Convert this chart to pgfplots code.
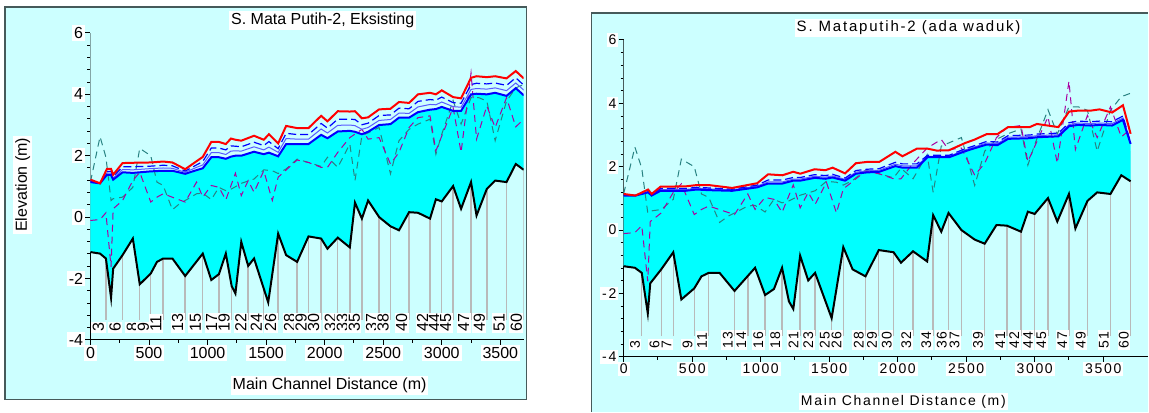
\documentclass[border=0pt]{standalone}
\usepackage{pgfplots}
\pgfplotsset{compat=1.18}
\usepackage{pgfplotstable}
\usepackage{fontspec}
\setmainfont{Liberation Sans}
\newfontfamily\spaced[LetterSpace=12]{Liberation Sans}

\definecolor{bgc}{RGB}{204,255,255}
\definecolor{wet}{RGB}{0,255,255}
\definecolor{bankA}{RGB}{40,130,130}
\definecolor{bankB}{RGB}{170,0,160}
\definecolor{xsgray}{RGB}{185,185,185}
\definecolor{framec}{RGB}{70,90,90}
\definecolor{wsthin}{RGB}{90,90,255}

% channel bed (same in both runs)
\pgfplotstableread{
x y
0 -1.14
82 -1.19
132 -1.35
176 -2.63
194 -1.68
274 -1.24
362 -0.70
421 -2.19
515 -1.84
568 -1.46
621 -1.35
700 -1.35
809 -1.92
959 -1.19
1032 -2.05
1097 -1.86
1156 -1.19
1206 -2.25
1238 -2.49
1288 -0.81
1347 -1.59
1397 -1.35
1518 -2.78
1603 -0.54
1671 -1.24
1765 -1.46
1862 -0.63
1970 -0.70
2024 -1.03
2112 -0.67
2215 -0.99
2259 0.47
2318 -0.05
2371 0.54
2465 0.00
2562 -0.30
2635 -0.43
2721 0.16
2797 0.14
2900 -0.05
2950 0.58
3000 0.51
3097 1.01
3165 0.27
3250 1.14
3297 0.05
3385 0.92
3456 1.19
3553 1.14
3632 1.73
3700 1.54
}\bed

% bank lines
\pgfplotstableread{
x y
0 1.15
82 2.62
132 1.95
176 0.54
194 0.60
274 0.65
362 0.97
421 2.24
515 2.00
568 1.14
621 1.03
700 0.24
759 0.43
809 0.54
906 0.76
959 0.78
1032 0.57
1097 0.97
1156 0.86
1206 0.92
1288 1.10
1397 1.24
1480 1.54
1553 1.51
1603 1.42
1671 1.57
1765 1.89
1862 1.78
1970 1.65
2024 1.95
2112 1.62
2215 2.38
2259 1.19
2318 2.65
2465 2.92
2562 1.41
2635 2.49
2721 2.86
2797 3.03
2900 3.19
2950 2.05
3000 2.70
3097 3.80
3165 3.03
3250 3.89
3318 3.89
3385 3.78
3456 2.49
3553 3.78
3632 4.21
3700 4.32
}\bankA

\pgfplotstableread{
x y
0 -0.11
82 -0.08
132 0.14
176 -1.62
194 0.27
274 0.54
362 1.19
421 1.46
515 0.49
568 0.65
621 0.76
809 0.49
906 1.14
959 0.65
1032 1.03
1097 0.97
1156 0.56
1238 1.43
1288 0.70
1347 1.19
1397 0.81
1480 1.51
1553 0.54
1603 1.30
1765 1.86
1862 1.78
1970 1.62
2024 1.62
2112 2.11
2215 2.59
2318 2.86
2371 2.54
2465 2.59
2562 1.73
2635 2.11
2721 2.92
2797 3.24
2900 3.30
2950 2.16
3097 3.57
3165 2.11
3250 4.70
3297 2.54
3385 3.62
3456 2.92
3553 3.89
3632 2.94
3700 3.19
}\bankB

% water surfaces, existing
\pgfplotstableread{
x ws thin dash eg
0 1.14 1.16 1.19 1.22
82 1.10 1.10 1.10 1.10
141 1.38 1.44 1.49 1.57
176 1.37 1.43 1.49 1.57
194 1.22 1.27 1.32 1.38
274 1.46 1.55 1.64 1.76
362 1.44 1.54 1.64 1.77
515 1.49 1.58 1.66 1.78
621 1.51 1.60 1.69 1.81
700 1.51 1.59 1.67 1.78
809 1.41 1.46 1.50 1.56
906 1.53 1.62 1.70 1.82
959 1.59 1.70 1.81 1.96
1032 1.95 2.10 2.25 2.45
1097 1.95 2.10 2.25 2.45
1156 1.90 2.04 2.19 2.38
1200 1.97 2.15 2.32 2.56
1238 2.00 2.16 2.31 2.52
1288 2.00 2.15 2.29 2.49
1397 2.13 2.29 2.44 2.65
1480 2.05 2.19 2.33 2.52
1524 2.10 2.28 2.46 2.70
1603 1.98 2.11 2.23 2.40
1671 2.38 2.56 2.73 2.97
1765 2.38 2.54 2.69 2.90
1862 2.38 2.54 2.69 2.90
1970 2.68 2.87 3.05 3.30
2024 2.57 2.74 2.90 3.12
2112 2.79 2.99 3.19 3.45
2215 2.81 3.00 3.19 3.44
2259 2.78 2.98 3.18 3.45
2318 2.70 2.86 3.01 3.22
2371 2.78 2.92 3.06 3.25
2465 3.00 3.15 3.31 3.51
2562 3.03 3.18 3.33 3.53
2635 3.24 3.39 3.55 3.75
2721 3.24 3.38 3.53 3.72
2797 3.42 3.59 3.77 4.00
2900 3.50 3.67 3.83 4.05
2950 3.52 3.66 3.81 4.00
3000 3.59 3.75 3.91 4.13
3097 3.46 3.60 3.73 3.91
3165 3.46 3.58 3.71 3.87
3250 4.00 4.16 4.32 4.54
3297 4.02 4.19 4.36 4.59
3385 4.00 4.17 4.34 4.56
3456 4.05 4.21 4.37 4.59
3553 3.95 4.12 4.29 4.52
3632 4.20 4.37 4.54 4.76
3700 3.97 4.14 4.30 4.52
}\wsL

% water surfaces, with reservoir
\pgfplotstableread{
x ws thin dash eg
0 1.09 1.11 1.12 1.14
86 1.09 1.09 1.09 1.09
178 1.19 1.22 1.25 1.28
204 1.09 1.11 1.12 1.14
269 1.24 1.28 1.31 1.37
452 1.24 1.28 1.31 1.38
531 1.28 1.32 1.35 1.42
623 1.26 1.30 1.33 1.42
792 1.24 1.27 1.29 1.33
975 1.35 1.39 1.42 1.48
1054 1.47 1.52 1.58 1.76
1159 1.47 1.52 1.58 1.73
1237 1.56 1.61 1.66 1.84
1289 1.56 1.61 1.66 1.78
1394 1.65 1.70 1.75 1.92
1472 1.62 1.67 1.72 1.89
1525 1.66 1.71 1.76 1.97
1616 1.56 1.60 1.64 1.79
1695 1.78 1.83 1.88 2.11
1773 1.82 1.87 1.92 2.15
1865 1.84 1.89 1.94 2.15
1983 2.02 2.08 2.14 2.47
2035 1.97 2.03 2.09 2.33
2140 1.97 2.03 2.09 2.57
2218 2.30 2.33 2.36 2.57
2284 2.30 2.33 2.36 2.51
2375 2.30 2.33 2.36 2.52
2493 2.49 2.53 2.57 2.75
2558 2.58 2.62 2.66 2.85
2650 2.70 2.75 2.80 3.03
2728 2.68 2.73 2.78 3.03
2806 2.88 2.93 2.98 3.25
2963 2.90 2.95 3.00 3.25
3016 2.93 2.98 3.03 3.35
3173 2.96 3.01 3.06 3.25
3251 3.28 3.33 3.39 3.74
3316 3.32 3.38 3.44 3.77
3408 3.30 3.36 3.42 3.77
3473 3.32 3.38 3.44 3.81
3565 3.30 3.36 3.42 3.71
3644 3.48 3.54 3.60 3.94
3700 2.72 2.74 2.76 3.04
}\wsR

% wetted area outlines: water surface downstream-up, then the bed back
\pgfplotstableread{
x y
0 1.14
82 1.10
141 1.38
176 1.37
194 1.22
274 1.46
362 1.44
515 1.49
621 1.51
700 1.51
809 1.41
906 1.53
959 1.59
1032 1.95
1097 1.95
1156 1.90
1200 1.97
1238 2.00
1288 2.00
1397 2.13
1480 2.05
1524 2.10
1603 1.98
1671 2.38
1765 2.38
1862 2.38
1970 2.68
2024 2.57
2112 2.79
2215 2.81
2259 2.78
2318 2.70
2371 2.78
2465 3.00
2562 3.03
2635 3.24
2721 3.24
2797 3.42
2900 3.50
2950 3.52
3000 3.59
3097 3.46
3165 3.46
3250 4.00
3297 4.02
3385 4.00
3456 4.05
3553 3.95
3632 4.20
3700 3.97
3700 1.54
3632 1.73
3553 1.14
3456 1.19
3385 0.92
3297 0.05
3250 1.14
3165 0.27
3097 1.01
3000 0.51
2950 0.58
2900 -0.05
2797 0.14
2721 0.16
2635 -0.43
2562 -0.30
2465 0.00
2371 0.54
2318 -0.05
2259 0.47
2215 -0.99
2112 -0.67
2024 -1.03
1970 -0.70
1862 -0.63
1765 -1.46
1671 -1.24
1603 -0.54
1518 -2.78
1397 -1.35
1347 -1.59
1288 -0.81
1238 -2.49
1206 -2.25
1156 -1.19
1097 -1.86
1032 -2.05
959 -1.19
809 -1.92
700 -1.35
621 -1.35
568 -1.46
515 -1.84
421 -2.19
362 -0.70
274 -1.24
194 -1.68
176 -2.63
132 -1.35
82 -1.19
0 -1.14
}\wetL

\pgfplotstableread{
x y
0 1.09
86 1.09
178 1.19
204 1.09
269 1.24
452 1.24
531 1.28
623 1.26
792 1.24
975 1.35
1054 1.47
1159 1.47
1237 1.56
1289 1.56
1394 1.65
1472 1.62
1525 1.66
1616 1.56
1695 1.78
1773 1.82
1865 1.84
1983 2.02
2035 1.97
2140 1.97
2218 2.30
2284 2.30
2375 2.30
2493 2.49
2558 2.58
2650 2.70
2728 2.68
2806 2.88
2963 2.90
3016 2.93
3173 2.96
3251 3.28
3316 3.32
3408 3.30
3473 3.32
3565 3.30
3644 3.48
3700 2.72
3700 1.54
3632 1.73
3553 1.14
3456 1.19
3385 0.92
3297 0.05
3250 1.14
3165 0.27
3097 1.01
3000 0.51
2950 0.58
2900 -0.05
2797 0.14
2721 0.16
2635 -0.43
2562 -0.30
2465 0.00
2371 0.54
2318 -0.05
2259 0.47
2215 -0.99
2112 -0.67
2024 -1.03
1970 -0.70
1862 -0.63
1765 -1.46
1671 -1.24
1603 -0.54
1518 -2.78
1397 -1.35
1347 -1.59
1288 -0.81
1238 -2.49
1206 -2.25
1156 -1.19
1097 -1.86
1032 -2.05
959 -1.19
809 -1.92
700 -1.35
621 -1.35
568 -1.46
515 -1.84
421 -2.19
362 -0.70
274 -1.24
194 -1.68
176 -2.63
132 -1.35
82 -1.19
0 -1.14
}\wetR

% labelled river stations
\pgfplotstableread{
x y lab
132 -3.8 3
274 -3.8 6
421 -3.8 8
515 -3.8 9
621 -3.8 11
809 -3.8 13
959 -3.8 15
1097 -3.8 17
1206 -3.8 19
1347 -3.8 22
1480 -3.8 24
1603 -3.8 26
1765 -3.8 28
1862 -3.8 29
1970 -3.8 30
2112 -3.8 32
2215 -3.8 33
2318 -3.8 35
2465 -3.8 37
2562 -3.8 38
2721 -3.8 40
2900 -3.8 42
3000 -3.8 44
3097 -3.8 45
3250 -3.8 47
3385 -3.8 49
3553 -3.8 51
3700 -3.8 60
}\labL

\pgfplotstableread{
x y lab
132 -3.8 3
274 -3.8 6
362 -3.8 7
515 -3.8 9
621 -3.8 11
809 -3.8 13
906 -3.8 14
1032 -3.8 16
1156 -3.8 18
1288 -3.8 21
1397 -3.8 23
1518 -3.8 25
1603 -3.8 26
1765 -3.8 28
1862 -3.8 29
1970 -3.8 30
2112 -3.8 32
2259 -3.8 34
2371 -3.8 36
2465 -3.8 37
2635 -3.8 39
2797 -3.8 41
2900 -3.8 42
3000 -3.8 44
3097 -3.8 45
3250 -3.8 47
3385 -3.8 49
3553 -3.8 51
3700 -3.8 60
}\labR

% station lines (bottom, top, break); the part above the bed is covered later
\pgfplotstableread{
x y
132 -3.35
132 2.5
132 nan
274 -3.35
274 2.5
274 nan
421 -3.35
421 2.5
421 nan
515 -3.35
515 2.5
515 nan
621 -3.35
621 2.5
621 nan
809 -3.35
809 2.5
809 nan
959 -3.35
959 2.5
959 nan
1097 -3.35
1097 2.5
1097 nan
1206 -3.35
1206 2.5
1206 nan
1347 -3.35
1347 2.5
1347 nan
1480 -3.35
1480 2.5
1480 nan
1603 -3.35
1603 2.5
1603 nan
1765 -3.35
1765 2.5
1765 nan
1862 -3.35
1862 2.5
1862 nan
1970 -3.35
1970 2.5
1970 nan
2112 -3.35
2112 2.5
2112 nan
2215 -3.35
2215 2.5
2215 nan
2318 -3.35
2318 2.5
2318 nan
2465 -3.35
2465 2.5
2465 nan
2562 -3.35
2562 2.5
2562 nan
2721 -3.35
2721 2.5
2721 nan
2900 -3.35
2900 2.5
2900 nan
3000 -3.35
3000 2.5
3000 nan
3097 -3.35
3097 2.5
3097 nan
3250 -3.35
3250 2.5
3250 nan
3385 -3.35
3385 2.5
3385 nan
3553 -3.35
3553 2.5
3553 nan
3700 -3.35
3700 2.5
3700 nan
}\glL

\pgfplotstableread{
x y
132 -3.35
132 2.5
132 nan
274 -3.35
274 2.5
274 nan
362 -3.35
362 2.5
362 nan
515 -3.35
515 2.5
515 nan
621 -3.35
621 2.5
621 nan
809 -3.35
809 2.5
809 nan
906 -3.35
906 2.5
906 nan
1032 -3.35
1032 2.5
1032 nan
1156 -3.35
1156 2.5
1156 nan
1288 -3.35
1288 2.5
1288 nan
1397 -3.35
1397 2.5
1397 nan
1518 -3.35
1518 2.5
1518 nan
1603 -3.35
1603 2.5
1603 nan
1765 -3.35
1765 2.5
1765 nan
1862 -3.35
1862 2.5
1862 nan
1970 -3.35
1970 2.5
1970 nan
2112 -3.35
2112 2.5
2112 nan
2259 -3.35
2259 2.5
2259 nan
2371 -3.35
2371 2.5
2371 nan
2465 -3.35
2465 2.5
2465 nan
2635 -3.35
2635 2.5
2635 nan
2797 -3.35
2797 2.5
2797 nan
2900 -3.35
2900 2.5
2900 nan
3000 -3.35
3000 2.5
3000 nan
3097 -3.35
3097 2.5
3097 nan
3250 -3.35
3250 2.5
3250 nan
3385 -3.35
3385 2.5
3385 nan
3553 -3.35
3553 2.5
3553 nan
3700 -3.35
3700 2.5
3700 nan
}\glR

\pgfplotsset{
    profile/.style={
        scale only axis,
        anchor=south west,
        xmin=0, ymin=-4, ymax=6,
        axis lines=left,
        axis line style={-, black, line width=0.6pt},
        tick align=outside,
        tick style={black, line width=0.5pt},
        major tick length=2.5pt,
        minor tick length=1.5pt,
        xtick={0,500,...,3500},
        ytick={-4,-2,...,6},
        minor x tick num=1,
        minor y tick num=4,
        ticklabel style={fill=white, inner sep=1pt},
        /pgf/number format/assume math mode=true,
        /pgf/number format/1000 sep={},
        unbounded coords=jump,
    },
    xsline/.style={xsgray, line width=0.7pt},
    dry/.style={fill=bgc, draw=none},
    bankA line/.style={bankA, line width=0.5pt, dash pattern=on 3.5pt off 2.5pt},
    bankB line/.style={bankB, line width=0.5pt, dash pattern=on 3.5pt off 2.5pt},
    xslabels/.style={only marks, mark=text, text mark={},
        nodes near coords, point meta=explicit symbolic,
        nodes near coords style={rotate=90, anchor=south west, fill=white,
            text=black, inner sep=0.7pt, font=#1}},
}

\begin{document}
\begin{tikzpicture}
\fill[white] (0,0) rectangle (574.5pt,206pt);
\filldraw[fill=bgc, draw=framec, line width=0.6pt] (2.5pt,6pt) rectangle (263.5pt,202.5pt);
\fill[bgc] (296pt,0pt) rectangle (574.5pt,199.5pt);
\draw[framec, line width=0.6pt] (296pt,0pt) -- (296pt,199.5pt) -- (574.5pt,199.5pt);

% ---- existing condition ----
\begin{axis}[
    profile,
    at={(45.25pt,36pt)},
    width=216.75pt, height=153.5pt,
    xmax=3700,
    tick label style={font=\fontsize{8}{9}\selectfont},
    title={S. Mata Putih-2, Eksisting},
    title style={at={(axis description cs:0.536,1.003)}, anchor=center,
        fill=white, inner sep=1pt, font=\fontsize{8}{9}\selectfont},
    xlabel={Main Channel Distance (m)},
    xlabel style={at={(axis description cs:0.552,-0.150)}, anchor=center,
        fill=white, inner sep=1pt, font=\fontsize{8}{9}\selectfont},
    ylabel={Elevation (m)},
    ylabel style={at={(axis description cs:-0.156,0.505)}, anchor=center,
        fill=white, inner sep=1pt, font=\fontsize{8}{9}\selectfont},
]
\addplot[xsline] table[x=x, y=y] {\glL};
\addplot[dry] table[x=x, y=y] {\bed} |- (axis cs:0,6) -- cycle;
\addplot[fill=wet, draw=none] table[x=x, y=y] {\wetL} -- cycle;
\addplot[bankA line] table[x=x, y=y] {\bankA};
\addplot[bankB line] table[x=x, y=y] {\bankB};
\addplot[wsthin, line width=0.5pt] table[x=x, y=thin] {\wsL};
\addplot[blue, line width=0.6pt, dash pattern=on 4pt off 2pt] table[x=x, y=dash] {\wsL};
\addplot[blue, line width=1pt] table[x=x, y=ws] {\wsL};
\addplot[red, line width=1pt] table[x=x, y=eg] {\wsL};
\addplot[black, line width=1pt] table[x=x, y=y] {\bed};
\addplot[xslabels={\fontsize{8}{8}\selectfont}] table[x=x, y=y, meta=lab] {\labL};
\end{axis}

% ---- with reservoir ----
\begin{axis}[
    profile,
    at={(312pt,27.5pt)},
    width=262.5pt, height=158.5pt,
    xmax=3830,
    tick label style={font=\spaced\fontsize{7}{8}\selectfont},
    title={S. Mataputih-2 (ada waduk)},
    title style={at={(axis description cs:0.543,1.0)}, anchor=center,
        fill=white, inner sep=1pt, font=\spaced\fontsize{7.5}{9}\selectfont},
    xlabel={Main Channel Distance (m)},
    xlabel style={at={(axis description cs:0.533,-0.142)}, anchor=center,
        fill=white, inner sep=1pt, font=\spaced\fontsize{7}{9}\selectfont},
]
\addplot[xsline] table[x=x, y=y] {\glR};
\addplot[dry] table[x=x, y=y] {\bed} |- (axis cs:0,6) -- cycle;
\addplot[fill=wet, draw=none] table[x=x, y=y] {\wetR} -- cycle;
\addplot[bankA line] table[x=x, y=y] {\bankA};
\addplot[bankB line] table[x=x, y=y] {\bankB};
\addplot[wsthin, line width=0.5pt] table[x=x, y=thin] {\wsR};
\addplot[blue, line width=0.6pt, dash pattern=on 4pt off 2pt] table[x=x, y=dash] {\wsR};
\addplot[blue, line width=1pt] table[x=x, y=ws] {\wsR};
\addplot[red, line width=1pt] table[x=x, y=eg] {\wsR};
\addplot[black, line width=1pt] table[x=x, y=y] {\bed};
\addplot[xslabels={\spaced\fontsize{7}{7}\selectfont}] table[x=x, y=y, meta=lab] {\labR};
\end{axis}
\end{tikzpicture}
\end{document}
